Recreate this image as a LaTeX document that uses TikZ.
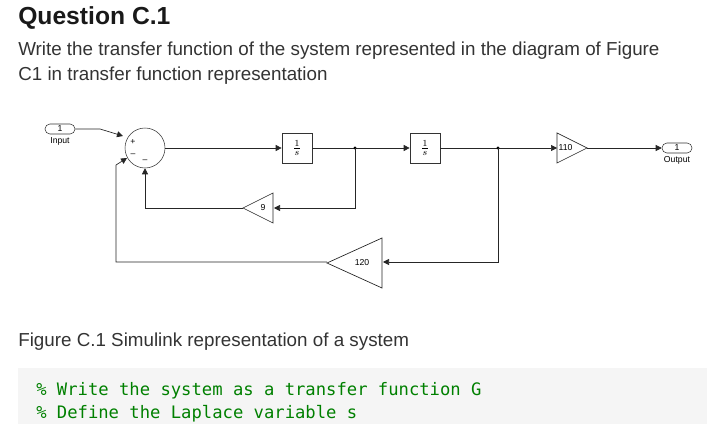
\documentclass[tikz,border=0pt]{standalone}
\usepackage{fontspec}
\setmainfont{Liberation Sans}
\newfontfamily\codefont{DejaVu Sans Mono}
\usetikzlibrary{arrows.meta,shapes.geometric}
\begin{document}
\begin{tikzpicture}[x=0.75pt,y=-0.75pt,
  wire/.style={draw=black!85,line width=0.5pt},
  arr/.style={wire,-{Triangle[length=4.5pt,width=4.5pt]}},
  blk/.style={draw=black!80,fill=white,minimum width=22.5pt,minimum height=22.5pt,inner sep=0pt,line width=0.5pt},
  port/.style={draw=black!80,rounded corners=3.7pt,minimum width=22.5pt,minimum height=7.5pt,inner sep=0pt,font=\fontsize{6.5}{6.5}\selectfont},
  small/.style={font=\fontsize{6.5}{7.5}\selectfont},
  body/.style={font=\fontsize{14.1}{16}\selectfont,text=black!80,anchor=base west,inner sep=0pt}]
\useasboundingbox (0,0) rectangle (707,424);
\node[anchor=base west,inner sep=0pt,font=\fontsize{18.5}{20}\bfseries\selectfont,text=black!90] (title) at (18,25) {Question C.1};
\node[body] (l1) at (18,56) {Write the transfer function of the system represented in the diagram of Figure};
\node[body] (l2) at (18,81) {C1 in transfer function representation};
% blocks
\node[port] (in) at (60,129) {1};
\node[small,anchor=north,inner sep=1pt] (inl) at (60,136) {Input};
\node[circle,draw=black!80,minimum size=30pt,inner sep=0pt] (sum) at (145,148) {};
\node[small] (sp) at (133,142) {+};
\node[small] (sm1) at (133,155) {--};
\node[small] (sm2) at (145,161) {--};
\node[blk] (b1) at (297,148) {$\frac{1}{s}$};
\coordinate (j1) at (355,148);
\node[blk] (b2) at (425,148) {$\frac{1}{s}$};
\coordinate (j2) at (498,148);
\draw[wire,fill=white] (557,133) -- (587,148) -- (557,163) -- cycle;
\node[small,anchor=west,inner sep=1pt] (g110) at (557,148) {110};
\node[port] (out) at (677,148) {1};
\node[small,anchor=north,inner sep=1pt] (outl) at (677,155) {Output};
\draw[wire,fill=white] (273,193) -- (243,208) -- (273,223) -- cycle;
\node[small] (g9) at (263,208) {9};
\draw[wire,fill=white] (382,238) -- (327,263) -- (382,288) -- cycle;
\node[small] (g120) at (362,263) {120};
% wires
\draw[arr] (in.east) -- (100,129) -- (123,136);
\draw[arr] (sum.east) -- (b1.west);
\draw[wire] (b1.east) -- (j1);
\draw[arr] (j1) -- (b2.west);
\draw[wire] (b2.east) -- (j2);
\draw[arr] (j2) -- (557,148);
\draw[arr] (587,148) -- (out.west);
\fill (j1) circle (1.3pt);
\fill (j2) circle (1.3pt);
\draw[arr] (j1) -- (355,208) -- (274,208);
\draw[arr] (243,208) -- (145,208) -- (sum.south);
\draw[arr] (j2) -- (498,262) -- (383,262);
\draw[arr] (327,262) -- (116,262) -- (116,165) -- (127,158);
% caption
\node[body] (cap) at (18,346) {Figure C.1 Simulink representation of a system};
\fill[black!4] (18,368) rectangle (707,424);
\node[anchor=base west,inner sep=0pt,font=\codefont\fontsize{12.9}{14}\selectfont,text=green!50!black] (c1) at (36,395) {\% Write the system as a transfer function G};
\node[anchor=base west,inner sep=0pt,font=\codefont\fontsize{12.9}{14}\selectfont,text=green!50!black] (c2) at (36,418) {\% Define the Laplace variable s};
\end{tikzpicture}
\end{document}
